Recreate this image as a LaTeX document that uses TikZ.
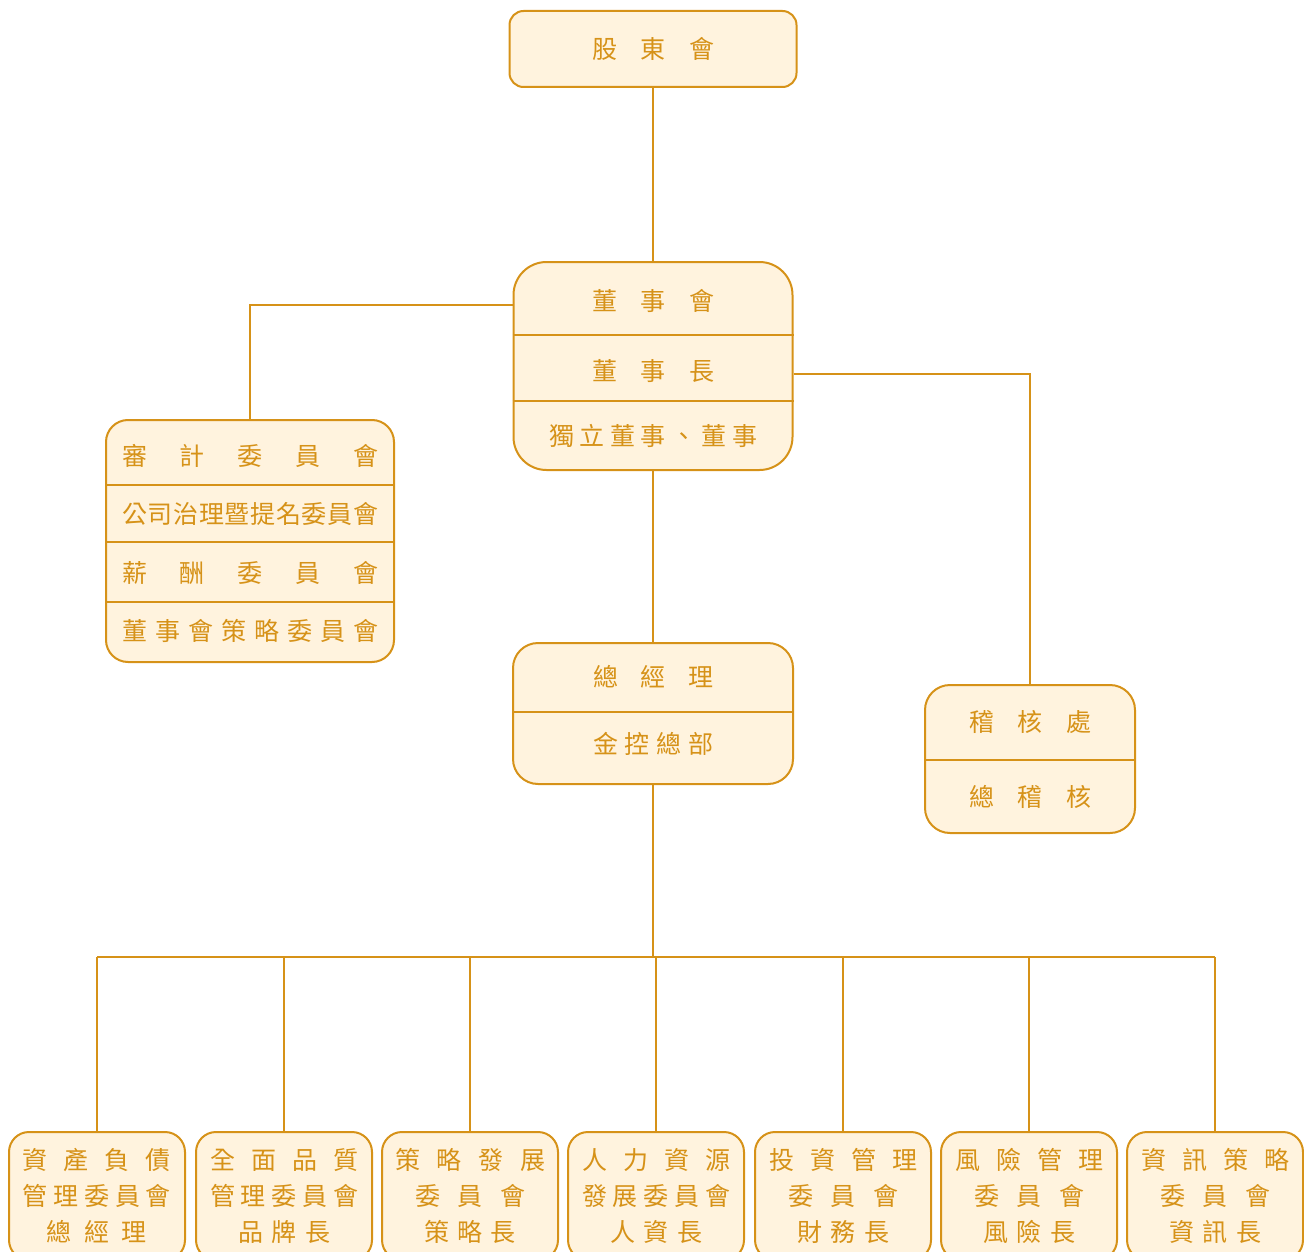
\documentclass[tikz,border=0pt]{standalone}
\usepackage{fontspec}
\newfontfamily\cjk{Noto Sans CJK TC}
\usetikzlibrary{positioning}

\definecolor{orgline}{RGB}{214,146,24}
\definecolor{orgfill}{RGB}{255,243,222}

% spread the characters of #2 over a width #1
\def\orgrest#1{\ifx#1\relax\else\hfill#1\expandafter\orgrest\fi}
\def\orgfirst#1{#1\orgrest}
\newcommand\orgspread[2]{\makebox[#1][s]{\orgfirst#2\relax}}

\tikzset{
    orgbox/.style={draw=orgline, fill=orgfill, line width=2pt},
    orgtext/.style={text=orgline, font=\cjk\fontsize{25}{36}\selectfont, inner sep=0pt},
    link/.style={draw=orgline, line width=2pt},
    unitbox/.style={orgbox, orgtext, align=center, rounded corners=20pt,
        minimum width=176pt, minimum height=128pt},
}

\begin{document}
\begin{tikzpicture}[x=1pt,y=-1pt]
    \useasboundingbox (0,0) rectangle (1304,1252);
    \clip (0,0) rectangle (1304,1252);

    % 1. Shareholders
    \node[orgbox, orgtext, rounded corners=14pt, minimum width=287pt, minimum height=76pt]
        (gdh) at (653,49) {\orgspread{122pt}{股東會}};

    % 2. Board of directors
    \node[orgbox, rounded corners=33pt, minimum width=279pt, minimum height=208pt] (board) at (653,366) {};
    \draw[link] (board.west |- 0,335) -- (board.east |- 0,335);
    \draw[link] (board.west |- 0,401) -- (board.east |- 0,401);
    \node[orgtext] (boardA) at (653,301) {\orgspread{122pt}{董事會}};
    \node[orgtext] (boardB) at (653,371) {\orgspread{122pt}{董事長}};
    \node[orgtext] (boardC) at (653,436) {\orgspread{208pt}{獨立董事、董事}};

    % 3. Committees of the board
    \node[orgbox, rounded corners=22pt, minimum width=288pt, minimum height=242pt] (cmte) at (250,541) {};
    \draw[link] (cmte.west |- 0,485) -- (cmte.east |- 0,485);
    \draw[link] (cmte.west |- 0,542) -- (cmte.east |- 0,542);
    \draw[link] (cmte.west |- 0,602) -- (cmte.east |- 0,602);
    \node[orgtext] (cmteA) at (250,456) {\orgspread{256pt}{審計委員會}};
    \node[orgtext] (cmteB) at (250,514) {\orgspread{256pt}{公司治理暨提名委員會}};
    \node[orgtext] (cmteC) at (250,573) {\orgspread{256pt}{薪酬委員會}};
    \node[orgtext] (cmteD) at (250,631) {\orgspread{256pt}{董事會策略委員會}};

    % 4. President and head office
    \node[orgbox, rounded corners=25pt, minimum width=280pt, minimum height=141pt] (gm) at (653,713.5) {};
    \draw[link] (gm.west |- 0,712) -- (gm.east |- 0,712);
    \node[orgtext] (gmA) at (653,677) {\orgspread{120pt}{總經理}};
    \node[orgtext] (gmB) at (653,744) {\orgspread{120pt}{金控總部}};

    % 5. Auditing
    \node[orgbox, rounded corners=25pt, minimum width=210pt, minimum height=148pt] (audit) at (1030,759) {};
    \draw[link] (audit.west |- 0,760) -- (audit.east |- 0,760);
    \node[orgtext] (auditA) at (1030,722) {\orgspread{122pt}{稽核處}};
    \node[orgtext] (auditB) at (1030,797) {\orgspread{122pt}{總稽核}};

    % 6. Management committees
    \node[unitbox] (u1) at (97,1196)
        {\orgspread{148pt}{資產負債}\\\orgspread{148pt}{管理委員會}\\\orgspread{100pt}{總經理}};
    \node[unitbox] (u2) at (284,1196)
        {\orgspread{148pt}{全面品質}\\\orgspread{148pt}{管理委員會}\\\orgspread{92pt}{品牌長}};
    \node[unitbox] (u3) at (470,1196)
        {\orgspread{150pt}{策略發展}\\\orgspread{110pt}{委員會}\\\orgspread{92pt}{策略長}};
    \node[unitbox] (u4) at (656,1196)
        {\orgspread{148pt}{人力資源}\\\orgspread{148pt}{發展委員會}\\\orgspread{92pt}{人資長}};
    \node[unitbox] (u5) at (843,1196)
        {\orgspread{148pt}{投資管理}\\\orgspread{110pt}{委員會}\\\orgspread{92pt}{財務長}};
    \node[unitbox] (u6) at (1029,1196)
        {\orgspread{148pt}{風險管理}\\\orgspread{110pt}{委員會}\\\orgspread{92pt}{風險長}};
    \node[unitbox] (u7) at (1215,1196)
        {\orgspread{148pt}{資訊策略}\\\orgspread{110pt}{委員會}\\\orgspread{92pt}{資訊長}};

    % Connectors
    \coordinate (bus) at (653,957);
    \draw[link] (gdh) -- (board);
    \draw[link] (board.west |- 0,305) -| (cmte.north);
    \draw[link] (board.east |- 0,374) -| (audit.north);
    \draw[link] (board) -- (gm);
    \draw[link] (gm) -- (bus);
    \draw[link] (bus -| u1.north) -- (bus -| u7.north);
    \foreach \u in {u1,u2,u3,u4,u5,u6,u7}
        \draw[link] (bus -| \u.north) -- (\u.north);
\end{tikzpicture}
\end{document}
